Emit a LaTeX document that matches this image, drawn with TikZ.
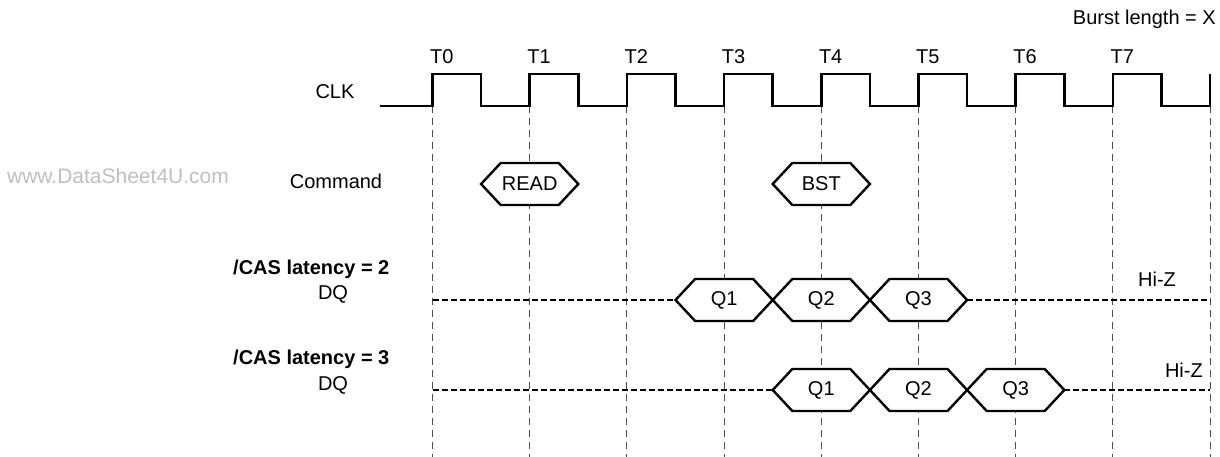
\documentclass[tikz,border=0pt]{standalone}
\usepackage{fontspec}
\setmainfont{Liberation Sans}
\usetikzlibrary{positioning}
\tikzset{sig/.style = {line width = 2.6pt, line join = miter},
  bus/.style = {line width = 2.4pt, fill = white, line join = miter},
  hiz/.style = {line width = 2.4pt, dash pattern = on 6pt off 3pt},
  tick/.style = {line width = 1pt, black!70, dash pattern = on 7pt off 5pt},
  lbl/.style = {font = \fontsize{20}{24}\selectfont, inner sep = 0}}
\newcommand{\busbox}[4]{%
  \draw [bus] ({#2-48.6}, #3) -- ({#2-29}, {#3-21}) -- ({#2+29}, {#3-21})
    -- ({#2+48.6}, #3) -- ({#2+29}, {#3+21}) -- ({#2-29}, {#3+21}) -- cycle;
  \node [lbl] (#1) at (#2, #3) {#4};}

\begin{document}
\begin{tikzpicture}[x = 1pt, y = -1pt]
      \useasboundingbox (0, 0) rectangle (1220, 457);

      % time marks
      \foreach \k in {0,...,8}
        \draw [tick] ({432.5+97.2*\k}, 106) -- ({432.5+97.2*\k}, 457);
      \foreach \k in {0,...,7}
        \node [lbl, anchor = base west] (t\k) at ({430+97.2*\k}, 64) {T\k};

      % clock
      \draw [sig] (380, 106) \foreach \k in {0,...,7} {
          -- ({432.5+97.2*\k}, 106) -- ({432.5+97.2*\k}, 74)
          -- ({481.1+97.2*\k}, 74) -- ({481.1+97.2*\k}, 106)}
        -- (1210.1, 106) -- (1210.1, 74);

      \node [lbl, anchor = base east] (burst) at (1216, 25) {Burst length = X};
      \node [lbl] (clk) at (335, 92) {CLK};
      \node [lbl, text = black!25, font = \fontsize{21}{24}\selectfont] (wmark) at (118, 176) {www.DataSheet4U.com};
      \node [lbl] (cmd) at (336, 181) {Command};

      % commands
      \busbox{read}{529.7}{184}{READ}
      \busbox{bst}{821.3}{184}{BST}

      % latency 2
      \node [lbl, anchor = base west, font = \fontsize{20}{24}\selectfont\bfseries] (cas2) at (233, 274) {/CAS latency = 2};
      \node [lbl] (dq2) at (333, 294) {DQ};
      \draw [hiz] (432.5, 300) -- (675.5, 300);
      \draw [hiz] (967.1, 300) -- (1210.1, 300);
      \busbox{q21}{724.1}{300}{Q1}
      \busbox{q22}{821.3}{300}{Q2}
      \busbox{q23}{918.5}{300}{Q3}
      \node [lbl, anchor = base] (hiz2) at (1157, 286) {Hi-Z};

      % latency 3
      \node [lbl, anchor = base west, font = \fontsize{20}{24}\selectfont\bfseries] (cas3) at (233, 364) {/CAS latency = 3};
      \node [lbl] (dq3) at (333, 385) {DQ};
      \draw [hiz] (432.5, 390) -- (772.7, 390);
      \draw [hiz] (1064.3, 390) -- (1210.1, 390);
      \busbox{q31}{821.3}{390}{Q1}
      \busbox{q32}{918.5}{390}{Q2}
      \busbox{q33}{1015.7}{390}{Q3}
      \node [lbl, anchor = base east] (hiz3) at (1203, 377) {Hi-Z};
\end{tikzpicture}
\end{document}
